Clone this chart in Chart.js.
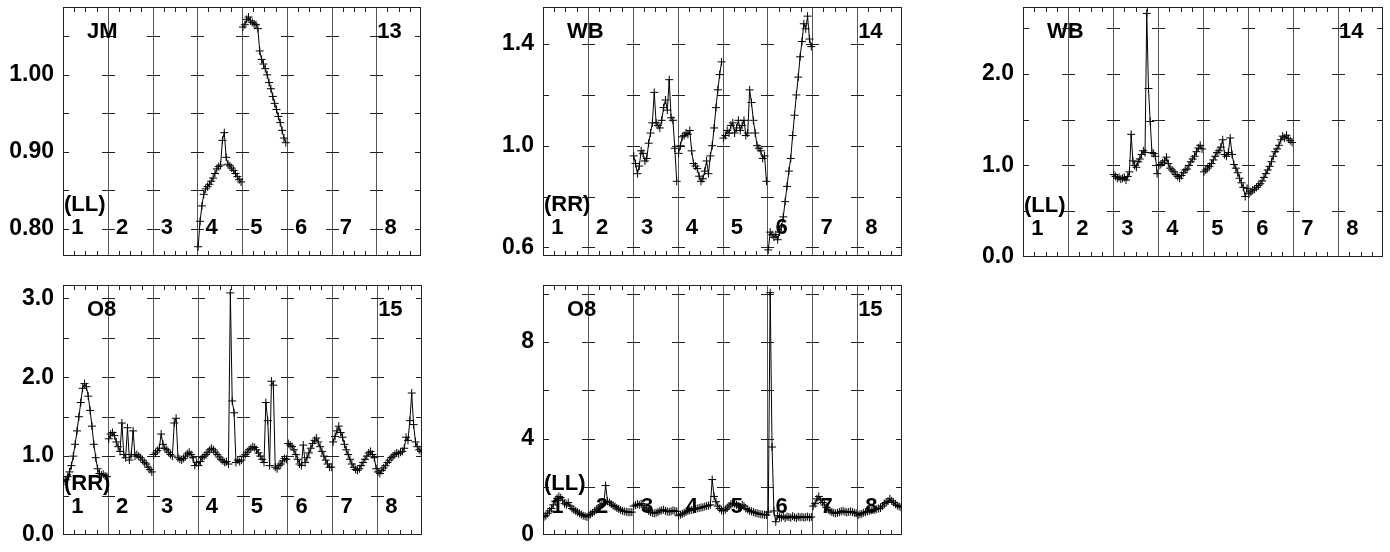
<!DOCTYPE html>
<html>
<head>
<meta charset="utf-8">
<script src="https://cdn.jsdelivr.net/npm/chart.js@4.4.1/dist/chart.umd.min.js"></script>
<style>
  html, body { margin: 0; padding: 0; background: #fff; }
  body { width: 1390px; height: 552px; position: relative; overflow: hidden; }
  canvas { position: absolute; }
</style>
</head>
<body>
<canvas id="p1" width="440" height="272" style="left:0;top:0"></canvas>
<canvas id="p2" width="440" height="272" style="left:480px;top:0"></canvas>
<canvas id="p3" width="430" height="272" style="left:960px;top:0"></canvas>
<canvas id="p4" width="440" height="274" style="left:0;top:278px"></canvas>
<canvas id="p5" width="440" height="274" style="left:480px;top:278px"></canvas>
<script>
// ========== DATA ==========
const segmentLabels = ["1", "2", "3", "4", "5", "6", "7", "8"];

// JM 13 (LL)
const jm13Seg4 = [0.777, 0.81, 0.83, 0.845, 0.852, 0.855, 0.858, 0.862, 0.866, 0.872, 0.878, 0.881, 0.883, 0.915, 0.925, 0.893, 0.884, 0.882, 0.879, 0.876, 0.872, 0.868, 0.864, 0.861];
const jm13Seg5 = [1.062, 1.065, 1.072, 1.075, 1.070, 1.068, 1.066, 1.065, 1.060, 1.031, 1.020, 1.014, 1.008, 1.000, 0.990, 0.982, 0.972, 0.963, 0.955, 0.946, 0.938, 0.928, 0.918, 0.912];

// WB 14 (RR)
const wb14rSeg3 = [0.96, 0.93, 0.89, 0.92, 0.98, 0.97, 0.94, 0.95, 1.01, 1.05, 1.09, 1.21, 1.09, 1.08, 1.07, 1.10, 1.15, 1.18, 1.14, 1.26, 1.11, 1.10, 0.99, 0.86];
const wb14rSeg4 = [0.97, 1.00, 1.035, 1.04, 1.05, 1.045, 1.06, 0.98, 0.93, 0.92, 0.91, 0.88, 0.86, 0.87, 0.90, 0.94, 0.89, 0.96, 1.00, 1.07, 1.15, 1.22, 1.28, 1.33];
const wb14rSeg5 = [1.03, 1.04, 1.06, 1.05, 1.08, 1.09, 1.05, 1.07, 1.10, 1.06, 1.08, 1.10, 1.04, 1.05, 1.22, 1.17, 1.10, 1.05, 1.00, 0.99, 0.98, 0.95, 0.96, 0.86];
const wb14rSeg6 = [0.59, 0.66, 0.65, 0.64, 0.65, 0.63, 0.66, 0.68, 0.72, 0.78, 0.84, 0.90, 0.95, 1.04, 1.12, 1.20, 1.27, 1.35, 1.41, 1.48, 1.46, 1.51, 1.42, 1.39];

// WB 14 (LL)
const wb14lSeg3 = [0.90, 0.88, 0.86, 0.87, 0.85, 0.86, 0.87, 0.84, 0.88, 0.93, 1.34, 1.05, 1.00, 0.98, 1.04, 1.07, 1.12, 1.16, 1.14, 2.66, 1.84, 1.48, 1.14, 1.13, 1.10, 0.91];
const wb14lSeg4 = [1.00, 1.01, 1.03, 1.05, 1.09, 1.02, 0.97, 0.95, 0.93, 0.90, 0.88, 0.86, 0.89, 0.92, 0.95, 0.96, 1.00, 1.04, 1.07, 1.10, 1.15, 1.19, 1.22, 1.18];
const wb14lSeg5 = [0.93, 0.95, 0.97, 0.99, 1.02, 1.06, 1.10, 1.14, 1.16, 1.20, 1.28, 1.12, 1.10, 1.14, 1.30, 1.12, 1.01, 0.97, 0.92, 0.86, 0.81, 0.76, 0.66, 0.75];
const wb14lSeg6 = [0.69, 0.71, 0.73, 0.74, 0.76, 0.78, 0.80, 0.83, 0.87, 0.91, 0.95, 0.99, 1.04, 1.10, 1.15, 1.18, 1.22, 1.28, 1.32, 1.30, 1.33, 1.29, 1.27, 1.25];

// O8 15 (RR)
const o8rSeg1 = [0.68, 0.70, 0.74, 0.80, 0.88, 1.00, 1.15, 1.32, 1.50, 1.68, 1.86, 1.92, 1.88, 1.76, 1.58, 1.38, 1.15, 0.98, 0.84, 0.78, 0.76, 0.77, 0.75, 0.74];
const o8rSeg2 = [1.22, 1.28, 1.30, 1.26, 1.18, 1.12, 1.06, 1.42, 1.02, 0.98, 1.36, 0.95, 1.02, 1.32, 1.00, 1.02, 1.00, 0.98, 0.95, 0.92, 0.90, 0.86, 0.83, 0.80];
const o8rSeg3 = [1.02, 1.04, 1.07, 1.10, 1.28, 1.15, 1.10, 1.08, 1.05, 1.02, 1.00, 1.42, 1.48, 0.98, 0.96, 0.95, 0.97, 1.00, 1.03, 1.05, 1.02, 0.98, 0.88, 0.92];
const o8rSeg4 = [0.88, 0.93, 0.98, 1.00, 1.02, 1.05, 1.08, 1.10, 1.08, 1.05, 1.02, 0.99, 0.96, 0.94, 0.92, 0.93, 0.90, 3.07, 1.70, 1.55, 0.92, 0.95, 0.93, 0.95];
const o8rSeg5 = [1.00, 1.02, 1.05, 1.08, 1.10, 1.12, 1.11, 1.08, 1.04, 1.00, 0.96, 0.92, 1.68, 1.45, 0.88, 1.95, 1.90, 0.86, 0.84, 0.88, 0.90, 0.94, 0.97, 0.96];
const o8rSeg6 = [1.16, 1.14, 1.12, 1.08, 1.02, 0.96, 0.90, 0.88, 1.14, 0.92, 0.98, 1.04, 1.10, 1.16, 1.20, 1.23, 1.18, 1.12, 1.06, 1.00, 0.95, 0.90, 0.86, 0.86];
const o8rSeg7 = [1.18, 1.25, 1.32, 1.38, 1.30, 1.24, 1.15, 1.08, 1.02, 0.96, 0.90, 0.86, 0.83, 0.82, 0.84, 0.88, 0.92, 0.96, 1.00, 1.04, 1.06, 1.02, 0.98, 0.84];
const o8rSeg8 = [0.80, 0.78, 0.82, 0.85, 0.88, 0.92, 0.95, 0.98, 1.00, 1.02, 1.04, 1.03, 1.05, 1.06, 1.10, 1.24, 1.20, 1.45, 1.80, 1.40, 1.18, 1.12, 1.08, 1.06];

// O8 15 (LL)
const o8lSeg1 = [0.75, 0.80, 0.90, 1.00, 1.10, 1.25, 1.40, 1.52, 1.60, 1.55, 1.45, 1.30, 1.25, 1.35, 1.20, 1.10, 1.05, 1.00, 0.95, 0.90, 0.85, 0.80, 0.78, 0.75];
const o8lSeg2 = [0.82, 0.86, 0.92, 0.98, 1.05, 1.12, 1.20, 1.25, 1.30, 2.05, 1.40, 1.35, 1.28, 1.22, 1.18, 1.12, 1.08, 1.04, 1.00, 0.98, 0.96, 0.95, 0.94, 0.95];
const o8lSeg3 = [1.20, 1.24, 1.28, 1.25, 1.30, 1.22, 1.15, 1.08, 1.00, 0.95, 0.92, 0.90, 0.92, 0.95, 1.00, 1.02, 1.05, 1.00, 0.98, 0.96, 0.98, 1.02, 1.00, 0.98];
const o8lSeg4 = [0.80, 0.84, 0.88, 0.92, 0.96, 1.00, 1.02, 1.04, 1.06, 1.08, 1.10, 1.12, 1.14, 1.15, 1.18, 1.20, 1.22, 1.25, 2.30, 1.60, 1.38, 1.20, 1.10, 1.02];
const o8lSeg5 = [1.00, 1.05, 1.12, 1.20, 1.28, 1.32, 1.30, 1.25, 1.20, 1.15, 1.25, 1.20, 1.10, 1.05, 1.00, 0.98, 0.95, 0.92, 0.90, 0.88, 0.86, 0.85, 0.84, 0.83];
const o8lSeg6 = [0.95, 10.05, 3.65, 1.00, 0.55, 0.80, 0.75, 0.72, 0.78, 0.70, 0.76, 0.74, 0.72, 0.78, 0.74, 0.70, 0.76, 0.73, 0.75, 0.72, 0.74, 0.76, 0.72, 0.75];
const o8lSeg7 = [1.20, 1.30, 1.50, 1.60, 1.45, 1.35, 1.25, 1.15, 1.05, 1.00, 0.95, 0.92, 0.90, 0.92, 0.95, 0.98, 1.00, 0.96, 0.94, 0.96, 0.98, 0.95, 0.92, 0.90];
const o8lSeg8 = [0.82, 0.86, 0.88, 0.92, 0.95, 0.98, 1.00, 1.02, 1.04, 1.05, 1.08, 1.10, 1.12, 1.20, 1.30, 1.35, 1.40, 1.50, 1.42, 1.35, 1.28, 1.22, 1.18, 1.15];

// y ticks and their labels, per panel
const jm13Ticks = [0.80, 0.85, 0.90, 0.95, 1.00, 1.05];
const jm13TickLabels = ["0.80", "", "0.90", "", "1.00", ""];
const wb14rTicks = [0.6, 0.8, 1.0, 1.2, 1.4];
const wb14rTickLabels = ["0.6", "", "1.0", "", "1.4"];
const wb14lTicks = [0, 0.5, 1.0, 1.5, 2.0, 2.5];
const wb14lTickLabels = ["0.0", "", "1.0", "", "2.0", ""];
const o8rTicks = [0, 0.5, 1.0, 1.5, 2.0, 2.5, 3.0];
const o8rTickLabels = ["0.0", "", "1.0", "", "2.0", "", "3.0"];
const o8lTicks = [0, 2, 4, 6, 8, 10];
const o8lTickLabels = ["0", "", "4", "", "8", ""];

// ========== DRAWING ==========
const FONT = '"Liberation Sans", Arial, sans-serif';

// one point per value, spread across its segment; a null point breaks the line between segments
function toPoints(segs) {
    const pts = [];
    segs.forEach((vals, k) => {
        if (!vals) return;
        vals.forEach((v, i) => pts.push({ x: k + (i + 0.5) / vals.length, y: v }));
        pts.push({ x: k + 1, y: null });
    });
    return pts;
}

function hline(ctx, x1, x2, y) { ctx.moveTo(x1, y); ctx.lineTo(x2, y); }
function vline(ctx, x, y1, y2) { ctx.moveTo(x, y1); ctx.lineTo(x, y2); }

// frame, segment dividers and inward ticks, plus panel texts
const panelDecor = {
    id: "panelDecor",
    beforeDatasetsDraw(chart, args, opts) {
        const { ctx, chartArea: a, scales: { x, y } } = chart;
        ctx.save();
        ctx.lineWidth = 1;
        ctx.strokeStyle = "#555";
        ctx.beginPath();
        for (let k = 1; k < segmentLabels.length; k++) {
            const px = Math.round(x.getPixelForValue(k)) + 0.5;
            vline(ctx, px, a.top, a.bottom);
        }
        ctx.stroke();

        ctx.strokeStyle = "#222";
        ctx.beginPath();
        opts.ticks.forEach(v => {
            const py = Math.round(y.getPixelForValue(v)) + 0.5;
            if (py < a.top + 2 || py > a.bottom - 2) return;
            hline(ctx, a.left, a.left + 6, py);
            hline(ctx, a.right - 6, a.right, py);
            for (let k = 1; k < segmentLabels.length; k++) {
                const px = Math.round(x.getPixelForValue(k));
                hline(ctx, px - 6, px + 7, py);
            }
        });
        for (let k = 0; k < segmentLabels.length; k++) {
            for (let q = 1; q < 4; q++) {
                const px = Math.round(x.getPixelForValue(k + q / 4)) + 0.5;
                vline(ctx, px, a.top, a.top + 5);
                vline(ctx, px, a.bottom - 5, a.bottom);
            }
        }
        ctx.stroke();
        ctx.strokeStyle = "#222";
        ctx.strokeRect(Math.round(a.left) + 0.5, Math.round(a.top) + 0.5,
            Math.round(a.width) - 1, Math.round(a.height) - 1);
        ctx.restore();
    },
    afterDatasetsDraw(chart, args, opts) {
        const { ctx, chartArea: a, scales: { x } } = chart;
        const h = a.bottom - a.top;
        ctx.save();
        ctx.fillStyle = "#000";
        ctx.font = "bold 22px " + FONT;
        ctx.textBaseline = "middle";
        ctx.textAlign = "left";
        ctx.fillText(opts.name, a.left + 24, a.top + 0.10 * h);
        ctx.fillText(opts.number, x.getPixelForValue(7) + 1, a.top + 0.10 * h);
        ctx.fillText(opts.side, a.left + 1, a.top + 0.795 * h);
        ctx.textAlign = "center";
        segmentLabels.forEach((s, k) => {
            ctx.fillText(s, x.getPixelForValue(k + 0.32), a.top + 0.888 * h);
        });
        ctx.restore();
    }
};

function makePanel(id, segs, yMin, yMax, ticks, tickLabels, texts, pad) {
    const canvas = document.getElementById(id);
    new Chart(canvas.getContext("2d"), {
        type: "line",
        data: {
            datasets: [{
                data: toPoints(segs),
                borderColor: "#000",
                borderWidth: 1,
                pointStyle: "cross",
                pointRadius: 4,
                pointBorderColor: "#000",
                pointBorderWidth: 1,
                tension: 0,
                fill: false,
                spanGaps: false
            }]
        },
        options: {
            responsive: false,
            animation: false,
            events: [],
            layout: { padding: pad },
            plugins: {
                legend: { display: false },
                tooltip: { enabled: false },
                panelDecor: Object.assign({ ticks: ticks }, texts)
            },
            scales: {
                x: { type: "linear", min: 0, max: segmentLabels.length, display: false },
                y: {
                    type: "linear",
                    min: yMin,
                    max: yMax,
                    afterBuildTicks: scale => { scale.ticks = ticks.map(v => ({ value: v })); },
                    afterFit: scale => {
                        scale.width = 63;
                        scale.paddingTop = 0;
                        scale.paddingBottom = 0;
                    },
                    grid: { display: false, drawTicks: false },
                    border: { display: false },
                    ticks: {
                        autoSkip: false,
                        padding: 9,
                        color: "#000",
                        font: { family: FONT, weight: "bold", size: 23 },
                        callback: (value, index) => tickLabels[index]
                    }
                }
            }
        },
        plugins: [panelDecor]
    });
}

makePanel("p1", [null, null, null, jm13Seg4, jm13Seg5, null, null, null],
    0.765, 1.088, jm13Ticks, jm13TickLabels,
    { name: "JM", number: "13", side: "(LL)" },
    { top: 7, right: 19, bottom: 16, left: 0 });

makePanel("p2", [null, null, wb14rSeg3, wb14rSeg4, wb14rSeg5, wb14rSeg6, null, null],
    0.566, 1.546, wb14rTicks, wb14rTickLabels,
    { name: "WB", number: "14", side: "(RR)" },
    { top: 7, right: 18, bottom: 16, left: 0 });

makePanel("p3", [null, null, wb14lSeg3, wb14lSeg4, wb14lSeg5, wb14lSeg6, null, null],
    0, 2.73, wb14lTicks, wb14lTickLabels,
    { name: "WB", number: "14", side: "(LL)" },
    { top: 7, right: 7, bottom: 15, left: 0 });

makePanel("p4", [o8rSeg1, o8rSeg2, o8rSeg3, o8rSeg4, o8rSeg5, o8rSeg6, o8rSeg7, o8rSeg8],
    0, 3.17, o8rTicks, o8rTickLabels,
    { name: "O8", number: "15", side: "(RR)" },
    { top: 7, right: 18, bottom: 17, left: 0 });

makePanel("p5", [o8lSeg1, o8lSeg2, o8lSeg3, o8lSeg4, o8lSeg5, o8lSeg6, o8lSeg7, o8lSeg8],
    0, 10.37, o8lTicks, o8lTickLabels,
    { name: "O8", number: "15", side: "(LL)" },
    { top: 7, right: 18, bottom: 17, left: 0 });
</script>
</body>
</html>
